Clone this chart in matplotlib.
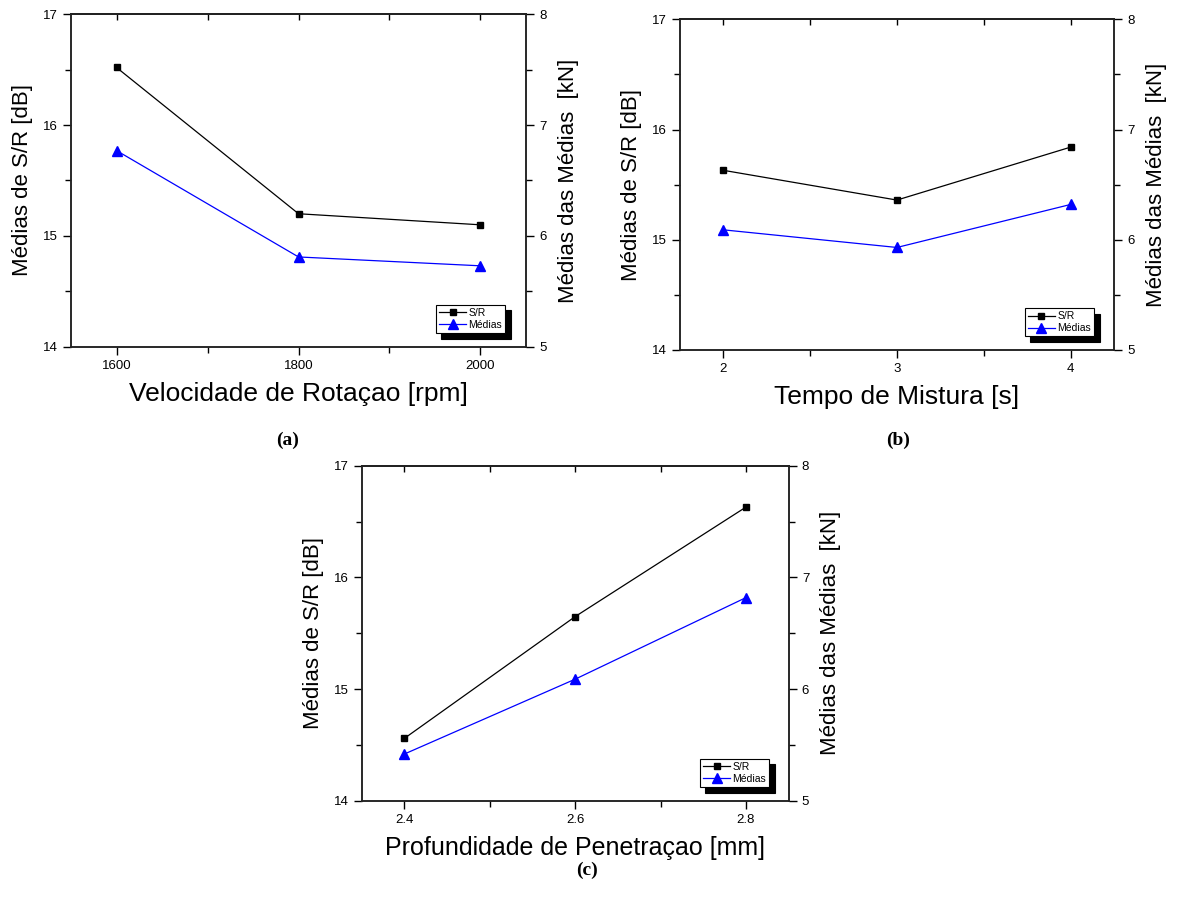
import numpy as np
import matplotlib
matplotlib.use("Agg")
import matplotlib.pyplot as plt
from matplotlib.ticker import MultipleLocator

plt.rcParams['font.family'] = ['Liberation Sans', 'DejaVu Sans']

# panel (a)
rot_x = [1600, 1800, 2000]
rot_sr = [16.52, 15.20, 15.10]
rot_med = [6.77, 5.81, 5.73]

# panel (b)
tempo_x = [2, 3, 4]
tempo_sr = [15.63, 15.36, 15.84]
tempo_med = [6.09, 5.93, 6.32]

# panel (c)
prof_x = [2.4, 2.6, 2.8]
prof_sr = [14.56, 15.65, 16.63]
prof_med = [5.42, 6.09, 6.82]

fig = plt.figure(figsize=(11.78, 9.10), dpi=100)


def panel(rect, x, sr, med, xlim, xmajor, xlabel, xfmt, leg_anchor, xlsize=19):
    ax = fig.add_axes(rect)
    ax2 = ax.twinx()
    l1, = ax.plot(x, sr, color='black', lw=0.9, marker='s', ms=5, label='S/R')
    l2, = ax2.plot(x, med, color='blue', lw=0.9, marker='^', ms=6.5, label='Médias')
    ax.set_xlim(*xlim)
    ax.set_ylim(14, 17)
    ax2.set_ylim(5, 8)
    ax.set_xticks(x)
    ax.set_xticklabels([xfmt.format(v) for v in x])
    ax.xaxis.set_minor_locator(MultipleLocator(xmajor / 2))
    ax.yaxis.set_major_locator(MultipleLocator(1))
    ax.yaxis.set_minor_locator(MultipleLocator(0.5))
    ax2.yaxis.set_major_locator(MultipleLocator(1))
    ax2.yaxis.set_minor_locator(MultipleLocator(0.5))
    for a in (ax, ax2):
        for s in a.spines.values():
            s.set_linewidth(1.1)
            s.set_color('#222222')
    ax.tick_params(which='major', direction='out', length=6, width=1, labelsize=9.5)
    ax.tick_params(which='minor', direction='out', length=4, width=1)
    ax2.tick_params(which='major', direction='out', length=6, width=1, labelsize=9.5)
    ax2.tick_params(which='minor', direction='out', length=4, width=1)
    top = ax.secondary_xaxis('top')
    top.set_xticks(x)
    top.xaxis.set_minor_locator(MultipleLocator(xmajor / 2))
    top.tick_params(which='both', direction='in', length=4, width=1, labeltop=False)
    top.spines['top'].set_linewidth(1.1)
    ax.set_xlabel(xlabel, fontsize=xlsize, labelpad=7)
    ax.set_ylabel('Médias de S/R [dB]', fontsize=16, labelpad=7)
    ax2.set_ylabel('Médias das Médias  [kN]', fontsize=16, labelpad=8)
    leg = ax2.legend([l1, l2], ['S/R', 'Médias'], loc='lower right',
                     bbox_to_anchor=leg_anchor, fontsize=7.5, frameon=True,
                     fancybox=False, edgecolor='black', framealpha=1,
                     borderaxespad=0, handlelength=2.6, handletextpad=0.2,
                     borderpad=0.3, labelspacing=0.2,
                     shadow={'color': 'black', 'alpha': 1, 'ox': 4, 'oy': -4})
    leg.get_frame().set_linewidth(0.8)
    return ax


panel([0.0603, 0.619, 0.3862, 0.3653], rot_x, rot_sr, rot_med, (1550, 2050), 200,
      'Velocidade de Rotaçao [rpm]', '{:d}', (0.954, 0.041))
panel([0.5772, 0.6154, 0.3684, 0.3634], tempo_x, tempo_sr, tempo_med, (1.75, 4.25), 1,
      'Tempo de Mistura [s]', '{:d}', (0.954, 0.041))
panel([0.3070, 0.1198, 0.3625, 0.3684], prof_x, prof_sr, prof_med, (2.35, 2.85), 0.2,
      'Profundidade de Penetraçao [mm]', '{:.1f}', (0.954, 0.041), xlsize=18)

for txt, px, py in [('(a)', 288, 440), ('(b)', 898, 440), ('(c)', 587, 870)]:
    fig.text(px / 1178, 1 - py / 910, txt, ha='center', va='center',
             fontsize=14, fontweight='bold', family='Liberation Serif')

fig.savefig('out.png', dpi=100)
